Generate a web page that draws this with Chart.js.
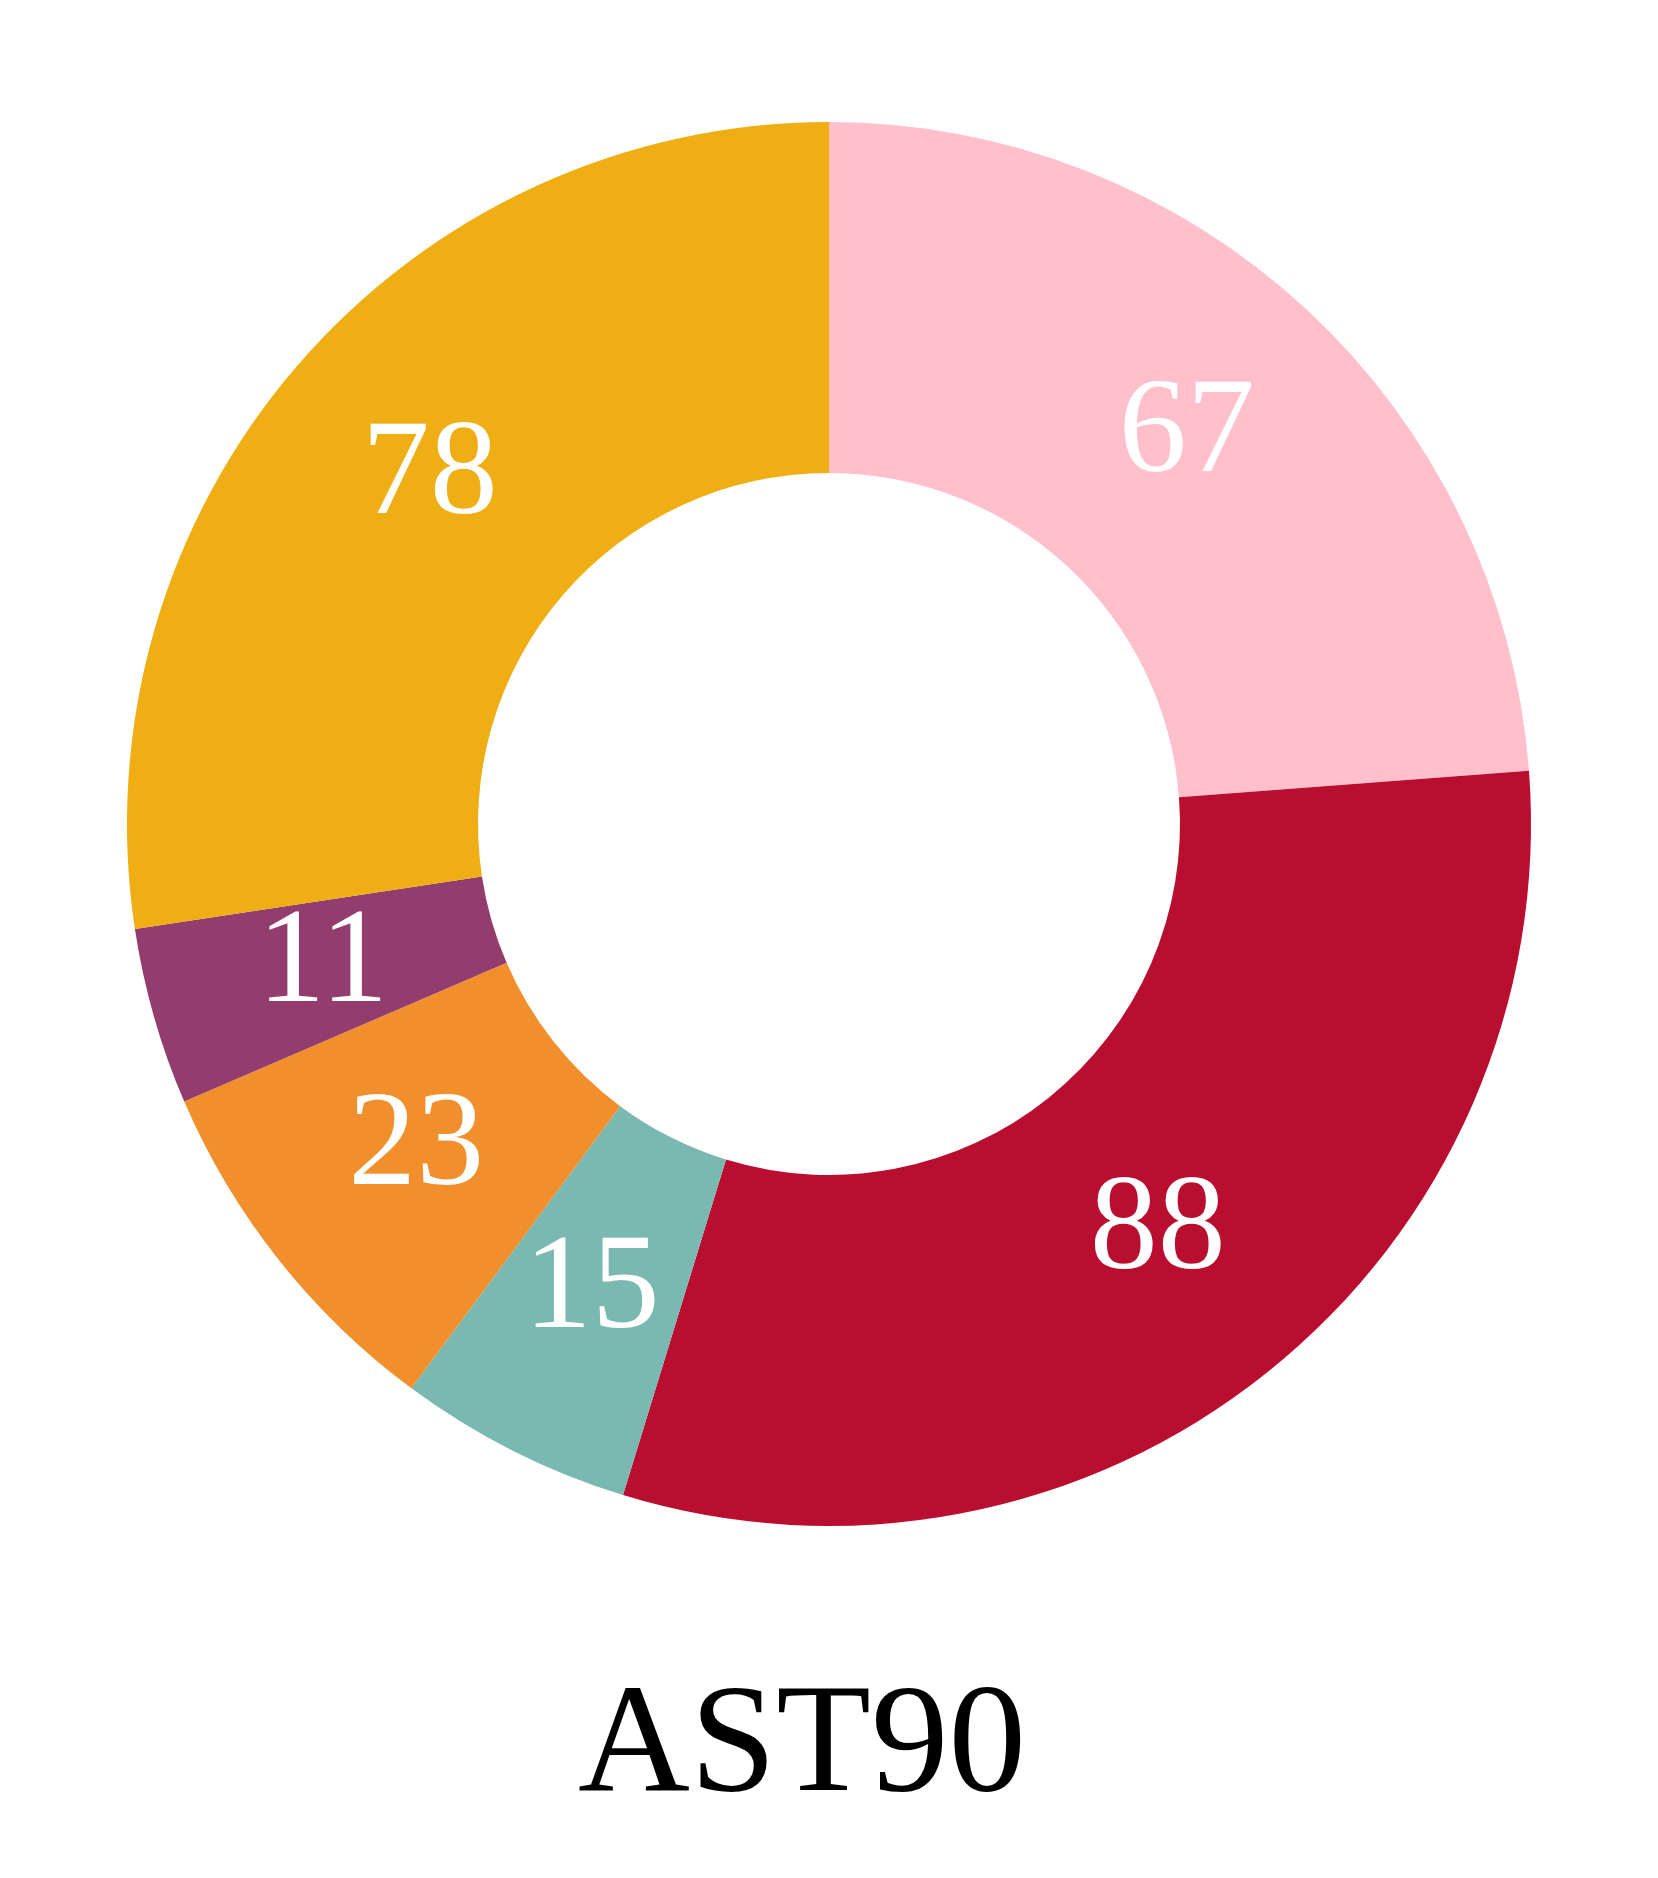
<!DOCTYPE html>
<html>
<head>
<meta charset="utf-8">
<script src="https://cdn.jsdelivr.net/npm/chart.js@4.4.0/dist/chart.umd.min.js"></script>
<style>
  html, body { margin: 0; padding: 0; background: #fff; }
  #wrap { width: 1658px; height: 1878px; }
</style>
</head>
<body>
<div id="wrap"><canvas id="myChart" width="1658" height="1878"></canvas></div>
<script>
// numbers printed on the slices, clockwise from 12 o'clock
const categories = ['A', 'B', 'C', 'D', 'E', 'F'];
const values = [67, 88, 15, 23, 11, 78];
// slice shares (% of the ring)
const shares = [23.79, 30.95, 5.40, 8.39, 4.08, 27.39];
const sliceColors = ['#FFBFCB', '#B90E2F', '#7AB8B2', '#F28F2D', '#933C6E', '#EFAE14'];
const chartTitle = 'AST90';

const serif = "'Liberation Serif', 'Times New Roman', serif";

// white value labels at each slice's centroid
const sliceLabels = {
    id: 'sliceLabels',
    afterDatasetsDraw(chart) {
        const ctx = chart.ctx;
        const meta = chart.getDatasetMeta(0);
        ctx.save();
        ctx.fillStyle = '#ffffff';
        ctx.font = '136px ' + serif;
        ctx.textAlign = 'center';
        ctx.textBaseline = 'middle';
        meta.data.forEach((arc, i) => {
            const p = arc.tooltipPosition();
            ctx.fillText(String(values[i]), p.x, p.y - 3);
        });
        ctx.restore();
    }
};

// title under the ring, sitting a bit left of centre like the original
const bottomTitle = {
    id: 'bottomTitle',
    afterDraw(chart) {
        const ctx = chart.ctx;
        const area = chart.chartArea;
        ctx.save();
        ctx.fillStyle = '#000000';
        ctx.font = '155px ' + serif;
        ctx.textAlign = 'center';
        ctx.textBaseline = 'alphabetic';
        ctx.fillText(chartTitle, (area.left + area.right) / 2 - 27, area.bottom + 264);
        ctx.restore();
    }
};

const ctx = document.getElementById('myChart').getContext('2d');
const myChart = new Chart(ctx, {
    type: 'doughnut',
    data: {
        labels: categories,
        datasets: [{
            data: shares,
            backgroundColor: sliceColors,
            borderWidth: 0
        }]
    },
    options: {
        responsive: false,
        animation: false,
        cutout: '50%',
        layout: {
            padding: { top: 122, left: 127, right: 127, bottom: 352 }
        },
        plugins: {
            legend: { display: false },
            tooltip: { enabled: false },
            title: { display: false }
        }
    },
    plugins: [sliceLabels, bottomTitle]
});
</script>
</body>
</html>
